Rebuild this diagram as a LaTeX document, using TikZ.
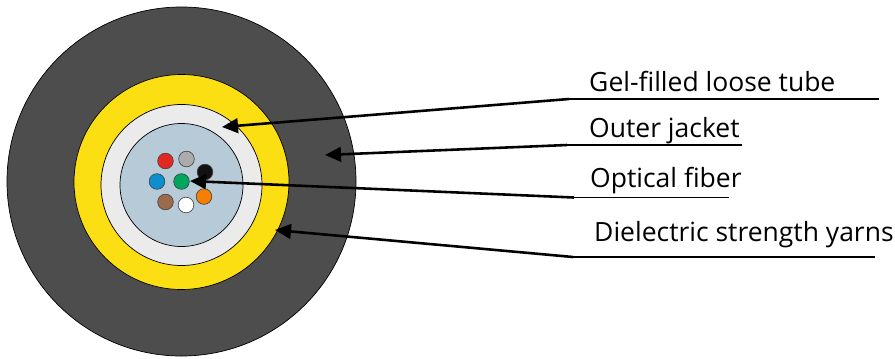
\documentclass[tikz,border=0pt]{standalone}
\usepackage{fontspec}
\setmainfont{Open Sans}
\usepackage{xcolor}
\usetikzlibrary{arrows.meta}
\definecolor{jacketgray}{HTML}{4D4D4D}
\definecolor{yarnyellow}{HTML}{FCDF12}
\definecolor{tubewhite}{HTML}{EBEBEB}
\definecolor{gelblue}{HTML}{B7CAD7}
\tikzset{
  layer/.style={draw=black,circle,inner sep=0pt,line width=0.6pt},
  fiber/.style={draw=black!75,circle,inner sep=0pt,minimum size=0.47cm,line width=0.5pt},
  pointer/.style={line width=2.2pt,-{Triangle[length=0.48cm,width=0.44cm]}},
  leader/.style={line width=1.1pt},
  caption/.style={anchor=base west,inner sep=0pt,font=\fontsize{22.6}{22.6}\selectfont}
}
\begin{document}
\begin{tikzpicture}[x=0.03cm,y=-0.03cm]
  \useasboundingbox (0,0) rectangle (895,358);
  % cable layers, outside to inside
  \node[layer,fill=jacketgray,minimum size=10.47cm] (jacket) at (181.5,181.5){};
  \node[layer,fill=yarnyellow,minimum size=6.45cm] (yarns) at (181.5,182){};
  \node[layer,fill=tubewhite,minimum size=4.83cm] (tube) at (181.5,185){};
  \node[layer,fill=gelblue,minimum size=3.69cm] (gel) at (181.5,185){};
  % fibers
  \foreach \name/\col/\px/\py in {red/E32822/165.5/161,gray/ABABAB/186.5/159,
    black/111111/205/172,blue/0B8FCE/157/181.5,green/00A65D/181.5/181.5,
    brown/9B6B4B/165.5/202,white/FFFFFF/186/205,orange/F57F00/204/196.5}{
    \definecolor{fibercol}{HTML}{\col}
    \node[fiber,fill=fibercol] (fiber-\name) at (\px,\py){};
  }
  % labels
  \node[caption] (gellabel) at (589,91){Gel-filled loose tube};
  \node[caption] (outerlabel) at (589,137){Outer jacket};
  \node[caption] (opticallabel) at (590,187){Optical fiber};
  \node[caption] (yarnlabel) at (594,241){Dielectric strength yarns};
  % line ends
  \coordinate (gelstart) at (569,99);
  \coordinate (gelstop) at (879,99);
  \coordinate (geltip) at (222,127);
  \coordinate (outerstart) at (567,145);
  \coordinate (outerstop) at (742,145);
  \coordinate (outertip) at (325,155);
  \coordinate (opticalstart) at (574,197.5);
  \coordinate (opticalstop) at (729,197.5);
  \coordinate (opticaltip) at (190,181);
  \coordinate (yarnstart) at (573,257);
  \coordinate (yarnstop) at (875,257);
  \coordinate (yarntip) at (275,230);
  \foreach \n in {gel,outer,optical,yarn}{
    \draw[leader] (\n start) -- (\n stop);
    \draw[pointer] (\n start) -- (\n tip);
  }
\end{tikzpicture}
\end{document}
